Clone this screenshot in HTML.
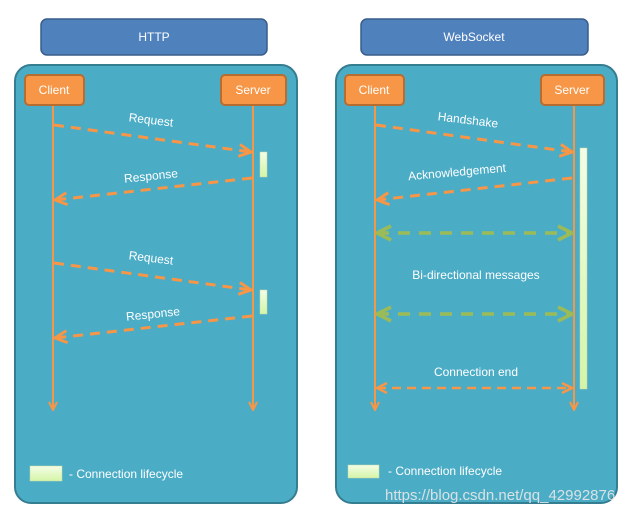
<!DOCTYPE html>
<html><head><style>body{margin:0;background:#fff}svg{display:block;font-family:"Liberation Sans",sans-serif}</style></head><body>
<svg width="638" height="514" viewBox="0 0 638 514" xmlns="http://www.w3.org/2000/svg">
<defs>
<marker id="ao" viewBox="0 0 10 10" refX="9" refY="5" markerWidth="5" markerHeight="5" orient="auto-start-reverse"><path d="M1 1L9 5L1 9" fill="none" stroke="#f79646" stroke-width="2"/></marker>
<marker id="ag" viewBox="0 0 10 10" refX="9" refY="5" markerWidth="5" markerHeight="5" orient="auto-start-reverse"><path d="M1 1L9 5L1 9" fill="none" stroke="#9bbb59" stroke-width="2"/></marker>
<linearGradient id="lg" x1="0" x2="0" y1="0" y2="1"><stop offset="0" stop-color="#f4fde6"/><stop offset="1" stop-color="#d4f5a8"/></linearGradient>
</defs>
<rect x="41" y="19" width="226" height="36" rx="6" fill="#4f81bd" stroke="#385d8a" stroke-width="1.5"/>
<text x="154" y="41" fill="#fff" font-size="12" text-anchor="middle">HTTP</text>
<rect x="361" y="19" width="227" height="36" rx="6" fill="#4f81bd" stroke="#385d8a" stroke-width="1.5"/>
<text x="474" y="41" fill="#fff" font-size="12" text-anchor="middle">WebSocket</text>
<rect x="15" y="65" width="282" height="438" rx="16" fill="#4bacc6" stroke="#357d91" stroke-width="2"/>
<rect x="336" y="65" width="281" height="438" rx="16" fill="#4bacc6" stroke="#357d91" stroke-width="2"/>
<g fill="#f79646" stroke="#b66d31" stroke-width="2">
<rect x="25" y="75" width="59" height="30" rx="4"/><rect x="221" y="75" width="65" height="30" rx="4"/>
<rect x="345" y="75" width="59" height="30" rx="4"/><rect x="541" y="75" width="63" height="30" rx="4"/>
</g>
<g fill="#fff" font-size="12" text-anchor="middle">
<text x="54" y="94">Client</text><text x="253" y="94">Server</text>
<text x="374" y="94">Client</text><text x="572" y="94">Server</text>
</g>
<g stroke="#f79646" stroke-width="2" fill="none" marker-end="url(#ao)">
<line x1="53" y1="106" x2="53" y2="410"/><line x1="253" y1="106" x2="253" y2="410"/>
<line x1="375" y1="106" x2="375" y2="410"/><line x1="574" y1="106" x2="574" y2="410"/>
</g>
<g stroke="#f79646" stroke-width="3" stroke-dasharray="10 7" fill="none" marker-end="url(#ao)">
<line x1="54" y1="125" x2="251" y2="152"/><line x1="252" y1="178" x2="55" y2="200"/>
<line x1="54" y1="263" x2="251" y2="290"/><line x1="252" y1="316" x2="55" y2="338"/>
<line x1="376" y1="125" x2="572" y2="152"/><line x1="572" y1="178" x2="377" y2="200"/>
</g>
<line x1="377" y1="388" x2="572" y2="388" stroke="#f79646" stroke-width="2.5" stroke-dasharray="9 6" marker-start="url(#ao)" marker-end="url(#ao)"/>
<g stroke="#9bbb59" stroke-width="3.5" stroke-dasharray="12 9" marker-start="url(#ag)" marker-end="url(#ag)">
<line x1="377" y1="233" x2="572" y2="233"/><line x1="377" y1="314" x2="572" y2="314"/>
</g>
<g fill="url(#lg)" stroke="#c7d9a8" stroke-width="0.5">
<rect x="260" y="152" width="7" height="25"/><rect x="260" y="290" width="7" height="24"/>
<rect x="580" y="148" width="7" height="241"/>
<rect x="30" y="466" width="32" height="15"/><rect x="348" y="465" width="31" height="13"/>
</g>
<g fill="#fff" font-size="12" text-anchor="middle">
<text x="151" y="124" transform="rotate(7 151 120)">Request</text>
<text x="151" y="180" transform="rotate(-6 151 176)">Response</text>
<text x="151" y="262" transform="rotate(7 151 258)">Request</text>
<text x="153" y="318" transform="rotate(-6 153 314)">Response</text>
<text x="468" y="124" transform="rotate(7 468 120)">Handshake</text>
<text x="457" y="176" transform="rotate(-5 457 172)">Acknowledgement</text>
<text x="476" y="279">Bi-directional messages</text>
<text x="476" y="376">Connection end</text>
</g>
<g fill="#fff" font-size="12">
<text x="69" y="478">- Connection lifecycle</text>
<text x="388" y="475">- Connection lifecycle</text>
</g>
<text x="385" y="500" fill="#e8e8e8" font-size="15" opacity="0.9">https://blog.csdn.net/qq_42992876</text>
</svg>
</body></html>
